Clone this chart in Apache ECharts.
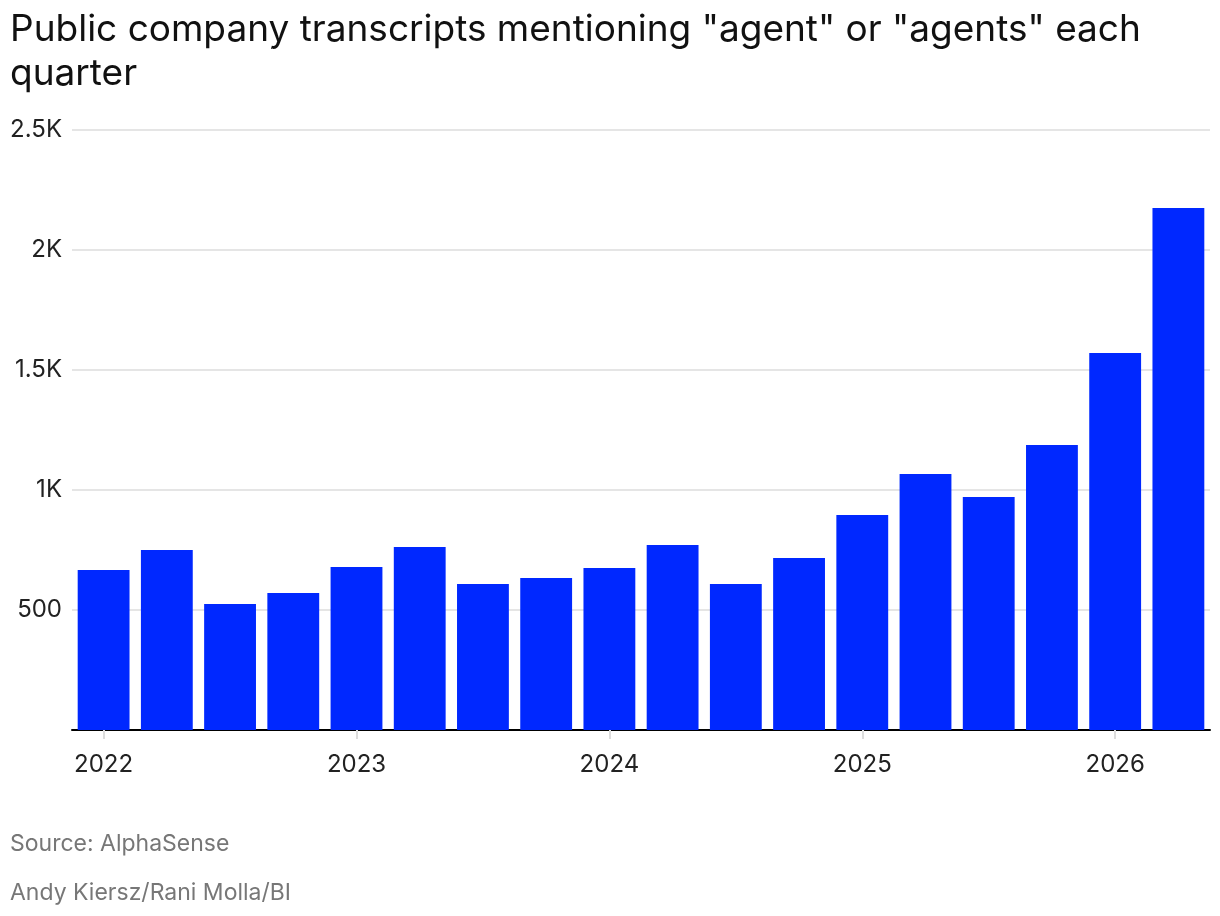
<!DOCTYPE html>
<html>
<head>
<meta charset="utf-8">
<title>Agent mentions</title>
<script src="https://cdn.jsdelivr.net/npm/echarts@6/dist/echarts.min.js"></script>
<style>
  html, body { margin: 0; padding: 0; background: #fff; }
  #chart { width: 1220px; height: 916px; }
</style>
</head>
<body>
<div id="chart"></div>
<script>
// quarters, Q1 2022 .. Q2 2026
var quarters = [
  'Q1 2022', 'Q2 2022', 'Q3 2022', 'Q4 2022',
  'Q1 2023', 'Q2 2023', 'Q3 2023', 'Q4 2023',
  'Q1 2024', 'Q2 2024', 'Q3 2024', 'Q4 2024',
  'Q1 2025', 'Q2 2025', 'Q3 2025', 'Q4 2025',
  'Q1 2026', 'Q2 2026'
];
// transcripts per quarter
var mentions = [667, 750, 525, 571, 679, 762, 608, 633, 675, 771, 608, 717, 896, 1067, 971, 1187, 1571, 2175];
var yTicks = [0, 500, 1000, 1500, 2000, 2500];

var font = 'Inter, "Noto Sans", sans-serif';

var chart = echarts.init(document.getElementById('chart'));

chart.setOption({
  animation: false,
  title: [{
    text: 'Public company transcripts mentioning "agent" or "agents" each\nquarter',
    left: 10,
    top: 8,
    padding: 0,
    textStyle: { fontFamily: font, fontSize: 37, fontWeight: 'normal', color: '#111', lineHeight: 44 }
  }, {
    text: 'Source: AlphaSense',
    left: 10,
    top: 833,
    padding: 0,
    textStyle: { fontFamily: font, fontSize: 23, fontWeight: 'normal', color: '#777' }
  }, {
    text: 'Andy Kiersz/Rani Molla/BI',
    left: 10,
    top: 882,
    padding: 0,
    textStyle: { fontFamily: font, fontSize: 23, fontWeight: 'normal', color: '#777' }
  }],
  grid: { left: 72, right: 10, top: 130, bottom: 186, containLabel: false },
  xAxis: {
    type: 'category',
    data: quarters,
    axisLine: { lineStyle: { color: '#000', width: 2 } },
    axisTick: {
      show: true,
      alignWithLabel: true,
      length: 9,
      interval: function (i) { return i % 4 === 0; },
      lineStyle: { color: '#ddd', width: 2 }
    },
    axisLabel: {
      interval: function (i) { return i % 4 === 0; },
      formatter: function (v) { return v.split(' ')[1]; },
      fontFamily: font,
      fontSize: 24,
      color: '#222',
      margin: 23
    }
  },
  yAxis: {
    type: 'value',
    min: yTicks[0],
    max: yTicks[yTicks.length - 1],
    interval: 500,
    splitLine: { lineStyle: { color: '#e5e5e5', width: 2 } },
    axisLine: { show: false },
    axisTick: { show: false },
    axisLabel: {
      fontFamily: font,
      fontSize: 24,
      color: '#222',
      margin: 10,
      formatter: function (v) {
        if (v === 0) return '';
        return v >= 1000 ? (v / 1000) + 'K' : String(v);
      }
    }
  },
  series: [{
    type: 'bar',
    data: mentions,
    barCategoryGap: '18%',
    itemStyle: { color: '#0028ff' }
  }]
});
</script>
</body>
</html>
